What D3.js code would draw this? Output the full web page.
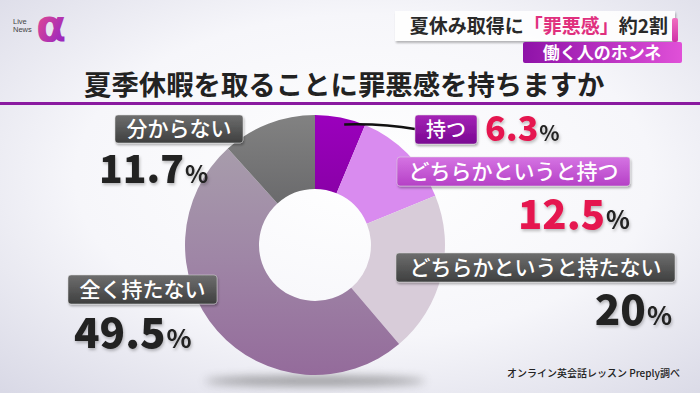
<!DOCTYPE html>
<html><head><meta charset="utf-8">
<script src="https://cdn.jsdelivr.net/npm/d3@7"></script>
<style>
html,body{margin:0;padding:0;background:#fff;}
svg{display:block;font-family:"Noto Sans CJK JP","Noto Sans",sans-serif;}
</style></head>
<body>
<svg id="chart" width="700" height="393"></svg>
<script>
// ---- data ----
const categories = ["持つ", "どちらかというと持つ", "どちらかというと持たない", "全く持たない", "分からない"];
const values = [6.3, 12.5, 20, 49.5, 11.7];
const valueLabels = ["6.3", "12.5", "20", "49.5", "11.7"];
const title = "夏季休暇を取ることに罪悪感を持ちますか";
const headline = ["夏休み取得に", "「罪悪感」", "約2割"];
const subhead = "働く人のホンネ";
const source = "オンライン英会話レッスン Preply調べ";
const logoWords = ["Live", "News"];
const logoMark = "α";

// ---- styles / layout ----
const sliceColors = ["url(#gMotsu)", "#d98bef", "#d8ccd9", "url(#gZen)", "url(#gWakara)"];
const boxStyle = ["url(#bPurple)", "url(#bPink)", "url(#bGray)", "url(#bGray)", "url(#bGray)"];
const boxes = [
  {x:415, y:115, w:62,  h:29, fs:20},
  {x:397, y:157, w:233, h:29, fs:21},
  {x:396, y:253, w:279, h:29, fs:21},
  {x:68,  y:275, w:149, h:29, fs:21},
  {x:115, y:115, w:128, h:28, fs:21}
];
const valPos = [
  {x:485, y:141, anchor:"start", fs:34, color:"#e5194f"},
  {x:630, y:229, anchor:"end",   fs:40, color:"#e5194f"},
  {x:672, y:325, anchor:"end",   fs:42, color:"#222"},
  {x:74,  y:348, anchor:"start", fs:42, color:"#222"},
  {x:99,  y:183, anchor:"start", fs:39, color:"#222"}
];

const svg = d3.select("#chart");
const defs = svg.append("defs");

function lin(id, stops, x2=0, y2=1) {
  const g = defs.append("linearGradient").attr("id", id)
    .attr("x1", 0).attr("y1", 0).attr("x2", x2).attr("y2", y2);
  stops.forEach(s => g.append("stop").attr("offset", s[0]).attr("stop-color", s[1]));
  return g;
}
// background
const bg = defs.append("radialGradient").attr("id", "bg").attr("cx", "52%").attr("cy", "45%").attr("r", "75%");
bg.append("stop").attr("offset", "0%").attr("stop-color", "#ffffff");
bg.append("stop").attr("offset", "55%").attr("stop-color", "#f6f6fa");
bg.append("stop").attr("offset", "100%").attr("stop-color", "#d9d9e6");

lin("gMotsu", [["0%", "#9b00bd"], ["100%", "#8a00a8"]]);
lin("gZen", [["0%", "#aaa3ad"], ["55%", "#9f86a6"], ["100%", "#946b9b"]]);
lin("gWakara", [["0%", "#828282"], ["100%", "#6a6a6c"]]);
lin("bPurple", [["0%", "#a424b6"], ["100%", "#7a0792"]]);
lin("bPink", [["0%", "#d574e3"], ["100%", "#b540c6"]]);
lin("bGray", [["0%", "#6e6e6e"], ["100%", "#3e3f3f"]]);
lin("logoG", [["0%", "#f0508a"], ["100%", "#8a20c8"]], 1, 1);
lin("subG", [["0%", "#8e12a8"], ["100%", "#e050d8"]], 1, 0);
lin("pinkBar", [["0%", "#f070c0"], ["100%", "#d030a8"]]);

const blur = defs.append("filter").attr("id", "blur").attr("x", "-50%").attr("y", "-200%").attr("width", "200%").attr("height", "500%");
blur.append("feGaussianBlur").attr("stdDeviation", 5);
const sh = defs.append("filter").attr("id", "sh").attr("x", "-10%").attr("y", "-20%").attr("width", "130%").attr("height", "160%");
sh.append("feDropShadow").attr("dx", 1).attr("dy", 2).attr("stdDeviation", 1.2).attr("flood-color", "#000").attr("flood-opacity", 0.3);
const tsh = defs.append("filter").attr("id", "tsh").attr("x", "-10%").attr("y", "-20%").attr("width", "130%").attr("height", "160%");
tsh.append("feDropShadow").attr("dx", 1).attr("dy", 2).attr("stdDeviation", 1.5).attr("flood-color", "#000").attr("flood-opacity", 0.25);

svg.append("rect").attr("width", 700).attr("height", 393).attr("fill", "url(#bg)");

// logo
svg.append("text").attr("x", 36).attr("y", 41).attr("font-size", 44).attr("font-weight", 700)
  .attr("font-family", "DejaVu Sans, sans-serif").attr("fill", "url(#logoG)").text(logoMark);
svg.append("text").attr("x", 13).attr("y", 24).attr("font-size", 7.5).attr("fill", "#444").attr("font-family", "Liberation Sans, sans-serif").text(logoWords[0]);
svg.append("text").attr("x", 13).attr("y", 32).attr("font-size", 7.5).attr("fill", "#444").attr("font-family", "Liberation Sans, sans-serif").text(logoWords[1]);

// headline
svg.append("rect").attr("x", 395).attr("y", 11).attr("width", 280).attr("height", 30).attr("fill", "#fff").attr("opacity", 0.9).attr("filter", "url(#sh)");
svg.append("rect").attr("x", 672).attr("y", 18).attr("width", 6).attr("height", 24).attr("rx", 2).attr("fill", "url(#pinkBar)");
const ht = svg.append("text").attr("x", 668).attr("y", 33).attr("text-anchor", "end").attr("font-size", 19).attr("font-weight", 700).attr("fill", "#2a2a2a");
ht.append("tspan").text(headline[0]);
ht.append("tspan").attr("fill", "#e0307e").text(headline[1]);
ht.append("tspan").text(headline[2]);
svg.append("rect").attr("x", 523).attr("y", 42).attr("width", 159).attr("height", 21).attr("rx", 2).attr("fill", "url(#subG)");
svg.append("text").attr("x", 602).attr("y", 59).attr("text-anchor", "middle").attr("font-size", 17).attr("font-weight", 700).attr("fill", "#fff").text(subhead);

// title
svg.append("text").attr("x", 84).attr("y", 95).attr("font-size", 27.4).attr("font-weight", 700).attr("fill", "#222").text(title);
svg.append("rect").attr("x", 0).attr("y", 102).attr("width", 700).attr("height", 3).attr("fill", "#8a1aa0");

// pie
const cx = 315, cy = 245;
svg.append("ellipse").attr("cx", cx).attr("cy", 381).attr("rx", 110).attr("ry", 5).attr("fill", "#555").attr("opacity", 0.55).attr("filter", "url(#blur)");
const pie = d3.pie().sort(null).value(d => d)(values);
const arc = d3.arc().innerRadius(56).outerRadius(130);
const g = svg.append("g").attr("transform", `translate(${cx},${cy})`);
defs.select("#gZen").attr("gradientUnits", "userSpaceOnUse").attr("x1", 0).attr("y1", -130).attr("x2", 0).attr("y2", 130);
g.selectAll("path").data(pie).join("path").attr("d", arc).attr("fill", (d, i) => sliceColors[i]);

// leader line for 持つ
const a0 = pie[0];
const mid = (a0.startAngle + a0.endAngle) / 2;
const p0 = [cx + Math.sin(mid) * 123 + 5, cy - Math.cos(mid) * 123];
svg.append("path")
  .attr("d", `M${p0[0]},${p0[1]} Q${p0[0] + 40},${p0[1] - 1} ${boxes[0].x},${boxes[0].y + 14}`)
  .attr("fill", "none").attr("stroke", "#111").attr("stroke-width", 2.5);

// label boxes + values
categories.forEach((c, i) => {
  const b = boxes[i];
  svg.append("rect").attr("x", b.x).attr("y", b.y).attr("width", b.w).attr("height", b.h).attr("rx", 3)
    .attr("fill", boxStyle[i]).attr("stroke", "#ddd").attr("stroke-opacity", 0.5).attr("filter", "url(#sh)");
  svg.append("text").attr("x", b.x + b.w / 2).attr("y", b.y + b.h / 2 + b.fs * 0.35).attr("text-anchor", "middle")
    .attr("font-size", b.fs).attr("font-weight", 500).attr("fill", "#fff").text(c);
  const v = valPos[i];
  const t = svg.append("text").attr("x", v.x).attr("y", v.y).attr("text-anchor", v.anchor)
    .attr("font-weight", 900).attr("filter", "url(#tsh)");
  t.append("tspan").attr("font-size", v.fs).attr("fill", v.color).text(valueLabels[i]);
  t.append("tspan").attr("font-size", v.fs * 0.62).attr("font-weight", 700).attr("fill", "#222").attr("dx", 1).text("%");
});

// source
svg.append("text").attr("x", 680).attr("y", 377).attr("text-anchor", "end").attr("font-size", 10).attr("font-weight", 500).attr("fill", "#222").text(source);
</script>
</body></html>
